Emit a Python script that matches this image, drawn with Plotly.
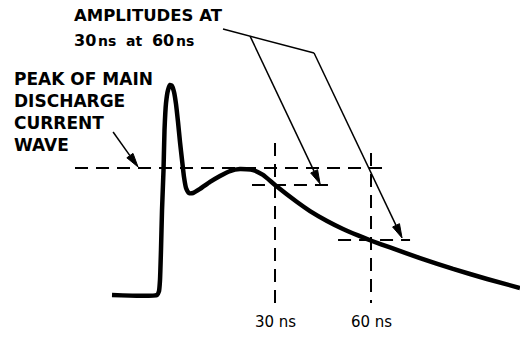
import math
import plotly.graph_objects as go

# Waveform: time (ns, 0 near the main peak) and amplitude
# (1.0 = peak of the main discharge current wave)
t_ns = [-20.94, -6.88, -6.25, -5.94, -5.63, -5.31, -4.84, -4.53, -4.06, -3.44, -2.81,
        -2.19, -1.56, -0.94, -0.31, 0.31, 0.94, 1.56, 2.19, 3.13, 4.38, 6.56, 9.69,
        12.81, 15.94, 19.06, 23.13, 26.25, 30.0, 36.88, 40.94, 46.25, 51.25, 55.94,
        60.31, 65.94, 75.31, 85.63, 96.25, 106.56]
amp = [0.0, 0.0, 0.031, 0.118, 0.354, 0.669, 0.984, 1.299, 1.512, 1.614, 1.654,
       1.646, 1.598, 1.504, 1.362, 1.205, 1.063, 0.929, 0.843, 0.803, 0.803, 0.835,
       0.890, 0.937, 0.976, 0.992, 0.984, 0.945, 0.866, 0.732, 0.661, 0.583, 0.520,
       0.469, 0.425, 0.374, 0.291, 0.205, 0.126, 0.055]

peak_level = 1.0
peak_level_span = [-32.5, 65.9]
marker_times = [30, 60]
marker_labels = ["30 ns", "60 ns"]
marker_amps = [0.866, 0.433]
marker_amp_spans = [[22.8, 46.6], [49.7, 72.2]]
marker_vspans = [[1.197, -0.063], [1.118, -0.063]]

# pointer lines (tail, head) in the same time/amplitude units
leader_t = [13.75, 42.2]
leader_a = [2.094, 1.906]
arrows = [((-20.6, 1.283), (-12.8, 1.008)),
          ((22.2, 2.039), (44.1, 0.874)),
          ((42.2, 1.906), (69.7, 0.449))]

X_RANGE = [-55.94, 106.56]
Y_RANGE = [-0.331, 2.323]
W, H = 520, 337


def to_px(t, a):
    return ((t - X_RANGE[0]) / (X_RANGE[1] - X_RANGE[0]) * W,
            (Y_RANGE[1] - a) / (Y_RANGE[1] - Y_RANGE[0]) * H)


def to_data(x, y):
    return (X_RANGE[0] + x / W * (X_RANGE[1] - X_RANGE[0]),
            Y_RANGE[1] - y / H * (Y_RANGE[1] - Y_RANGE[0]))


fig = go.Figure()
DASH = "13px,8px"

fig.add_trace(go.Scatter(x=peak_level_span, y=[peak_level, peak_level], mode="lines",
                         line=dict(color="black", width=2, dash=DASH), hoverinfo="skip"))
for tm, a, span, vs in zip(marker_times, marker_amps, marker_amp_spans, marker_vspans):
    fig.add_trace(go.Scatter(x=[tm, tm], y=vs, mode="lines",
                             line=dict(color="black", width=2, dash=DASH), hoverinfo="skip"))
    fig.add_trace(go.Scatter(x=span, y=[a, a], mode="lines",
                             line=dict(color="black", width=2, dash=DASH), hoverinfo="skip"))

fig.add_trace(go.Scatter(x=t_ns, y=amp, mode="lines",
                         line=dict(color="black", width=4.5, shape="spline", smoothing=0.5),
                         hoverinfo="skip"))

fig.add_trace(go.Scatter(x=leader_t, y=leader_a, mode="lines",
                         line=dict(color="black", width=1.5), hoverinfo="skip"))

HEAD_LEN, HEAD_HALF = 14, 3.8
for (tail, head) in arrows:
    x0, y0 = to_px(*tail)
    x1, y1 = to_px(*head)
    L = math.hypot(x1 - x0, y1 - y0)
    ux, uy = (x1 - x0) / L, (y1 - y0) / L
    bx, by = x1 - ux * HEAD_LEN, y1 - uy * HEAD_LEN
    nx, ny = -uy, ux
    base = to_data(bx, by)
    fig.add_trace(go.Scatter(x=[tail[0], base[0]], y=[tail[1], base[1]], mode="lines",
                             line=dict(color="black", width=1.5), hoverinfo="skip"))
    tri = [to_data(x1, y1), to_data(bx + nx * HEAD_HALF, by + ny * HEAD_HALF),
           to_data(bx - nx * HEAD_HALF, by - ny * HEAD_HALF), to_data(x1, y1)]
    fig.add_trace(go.Scatter(x=[p[0] for p in tri], y=[p[1] for p in tri], mode="lines",
                             fill="toself", fillcolor="black",
                             line=dict(color="black", width=1), hoverinfo="skip"))


def px(x):
    return x / W


def py(y):
    return 1 - y / H


annotations = []
annotations.append(dict(xref="paper", yref="paper", x=px(72), y=py(16), xanchor="left",
                        yanchor="middle", showarrow=False, text="<b>AMPLITUDES AT</b>",
                        font=dict(family="DejaVu Sans", size=16.5, color="black")))
sm = "<span style='font-size:14px'>"
tiny = "<span style='font-size:5px'> </span>"
annotations.append(dict(xref="paper", yref="paper", x=px(72), y=py(41), xanchor="left",
                        yanchor="middle", showarrow=False,
                        text="<b>30" + tiny + sm + "ns  at  </span>60" + tiny + sm + "ns</span></b>",
                        font=dict(family="DejaVu Sans", size=16, color="black")))
for line_text, yy in zip(["PEAK OF MAIN", "DISCHARGE", "CURRENT", "WAVE"], [79, 101, 123, 145]):
    annotations.append(dict(xref="paper", yref="paper", x=px(12), y=py(yy), xanchor="left",
                            yanchor="middle", showarrow=False, text="<b>" + line_text + "</b>",
                            font=dict(family="DejaVu Sans", size=17, color="black")))
for tm, lab in zip(marker_times, marker_labels):
    annotations.append(dict(xref="x", yref="paper", x=tm, y=py(322), xanchor="center",
                            yanchor="middle", showarrow=False, text=lab,
                            font=dict(family="DejaVu Sans", size=15, color="black")))

fig.update_layout(
    width=W, height=H, margin=dict(l=0, r=0, t=0, b=0),
    paper_bgcolor="white", plot_bgcolor="white", showlegend=False,
    xaxis=dict(range=X_RANGE, visible=False, fixedrange=True),
    yaxis=dict(range=Y_RANGE, visible=False, fixedrange=True),
    annotations=annotations,
)
fig.write_html("out.html")
